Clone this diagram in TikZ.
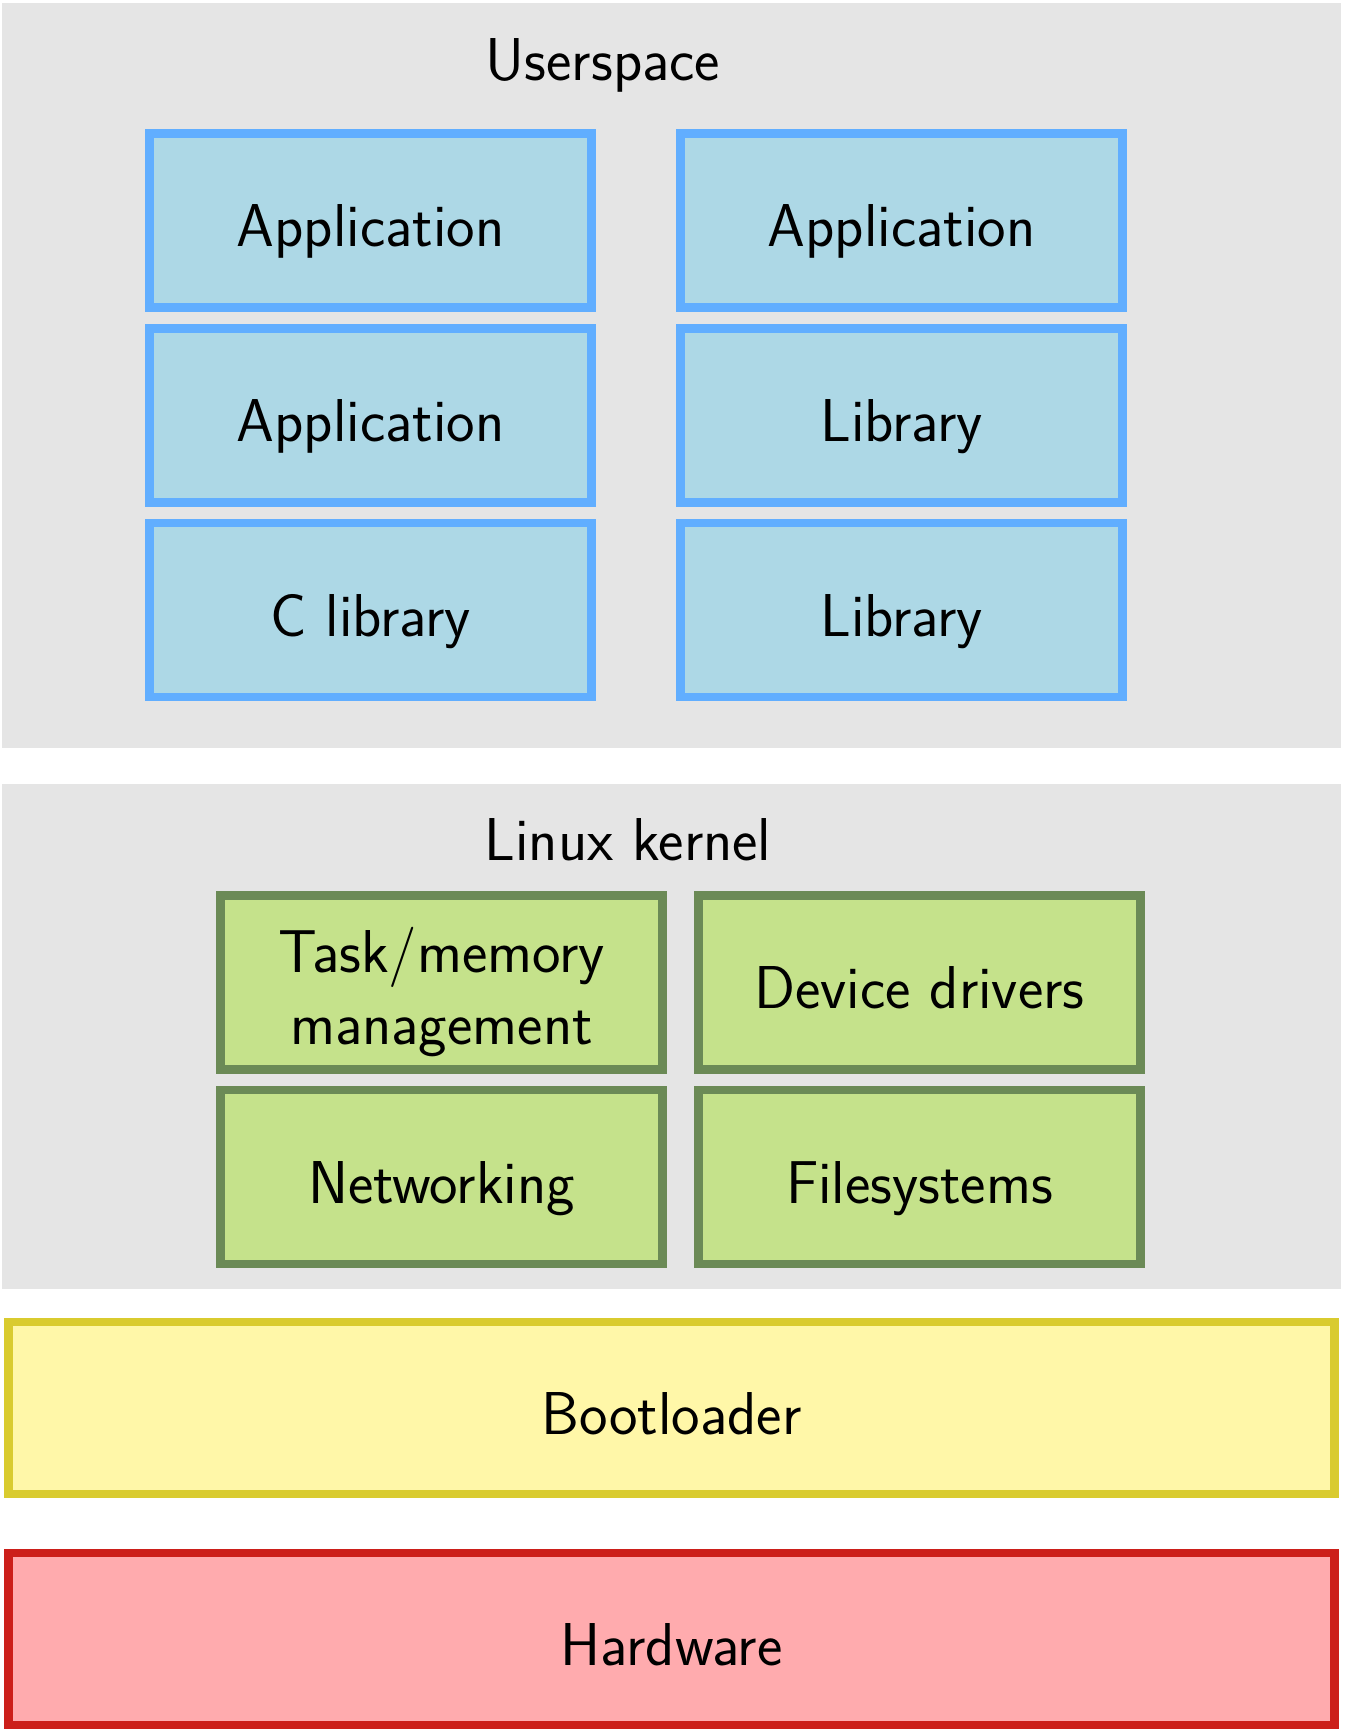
\documentclass[tikz,border=0pt]{standalone}
\usepackage{xcolor}
\usepackage{tikz}

\definecolor{layerbg}{HTML}{E5E5E5}
\definecolor{userfill}{HTML}{ADD8E6}
\definecolor{userline}{HTML}{61AEFF}
\definecolor{kernfill}{HTML}{C5E28B}
\definecolor{kernline}{HTML}{6B8A56}
\definecolor{bootfill}{HTML}{FFF7A8}
\definecolor{bootline}{HTML}{D9CB2F}
\definecolor{hwfill}{HTML}{FFABAE}
\definecolor{hwline}{HTML}{CC1F1A}

\tikzset{
  layer/.style={fill=layerbg},
  block/.style={draw, line width=2.5pt, minimum width=4.41cm, minimum height=1.74cm,
    inner sep=0pt, align=center, text height=15pt, text depth=0pt,
    font=\fontsize{17.2}{20.4}\selectfont\sffamily},
  userblock/.style={block, fill=userfill, draw=userline},
  kernblock/.style={block, fill=kernfill, draw=kernline},
  wideblock/.style={block, minimum width=13.25cm, minimum height=1.72cm},
  title/.style={anchor=base, font=\fontsize{17.2}{20.4}\selectfont\sffamily}
}

\begin{document}
\begin{tikzpicture}[x=0.01cm, y=-0.01cm]
        \useasboundingbox (0,0) rectangle (1344,1735);

        % Fondos de las capas
        \fill[layer] (2,3) rectangle (1341,748);
        \fill[layer] (2,784) rectangle (1341,1289);

        % Userspace
        \node[title] (userspace) at (603,80) {Userspace};
        \node[userblock] (app1) at (370.5,220.5) {Application};
        \node[userblock] (app2) at (370.5,415.5) {Application};
        \node[userblock] (clib) at (370.5,610) {C library};
        \node[userblock] (app3) at (901.5,220.5) {Application};
        \node[userblock] (lib1) at (901.5,415.5) {Library};
        \node[userblock] (lib2) at (901.5,610) {Library};

        % Linux kernel
        \node[title] (kernel) at (628,860) {Linux kernel};
        \node[kernblock, text height=35.2pt] (task) at (441.5,982.5) {Task/memory\\management};
        \node[kernblock] (drivers) at (919.5,982.5) {Device drivers};
        \node[kernblock] (net) at (441.5,1177) {Networking};
        \node[kernblock] (fs) at (919.5,1177) {Filesystems};

        % Bootloader y hardware
        \node[wideblock, fill=bootfill, draw=bootline] (boot) at (671.5,1408) {Bootloader};
        \node[wideblock, fill=hwfill, draw=hwline] (hw) at (671.5,1639) {Hardware};
    \end{tikzpicture}
\end{document}
